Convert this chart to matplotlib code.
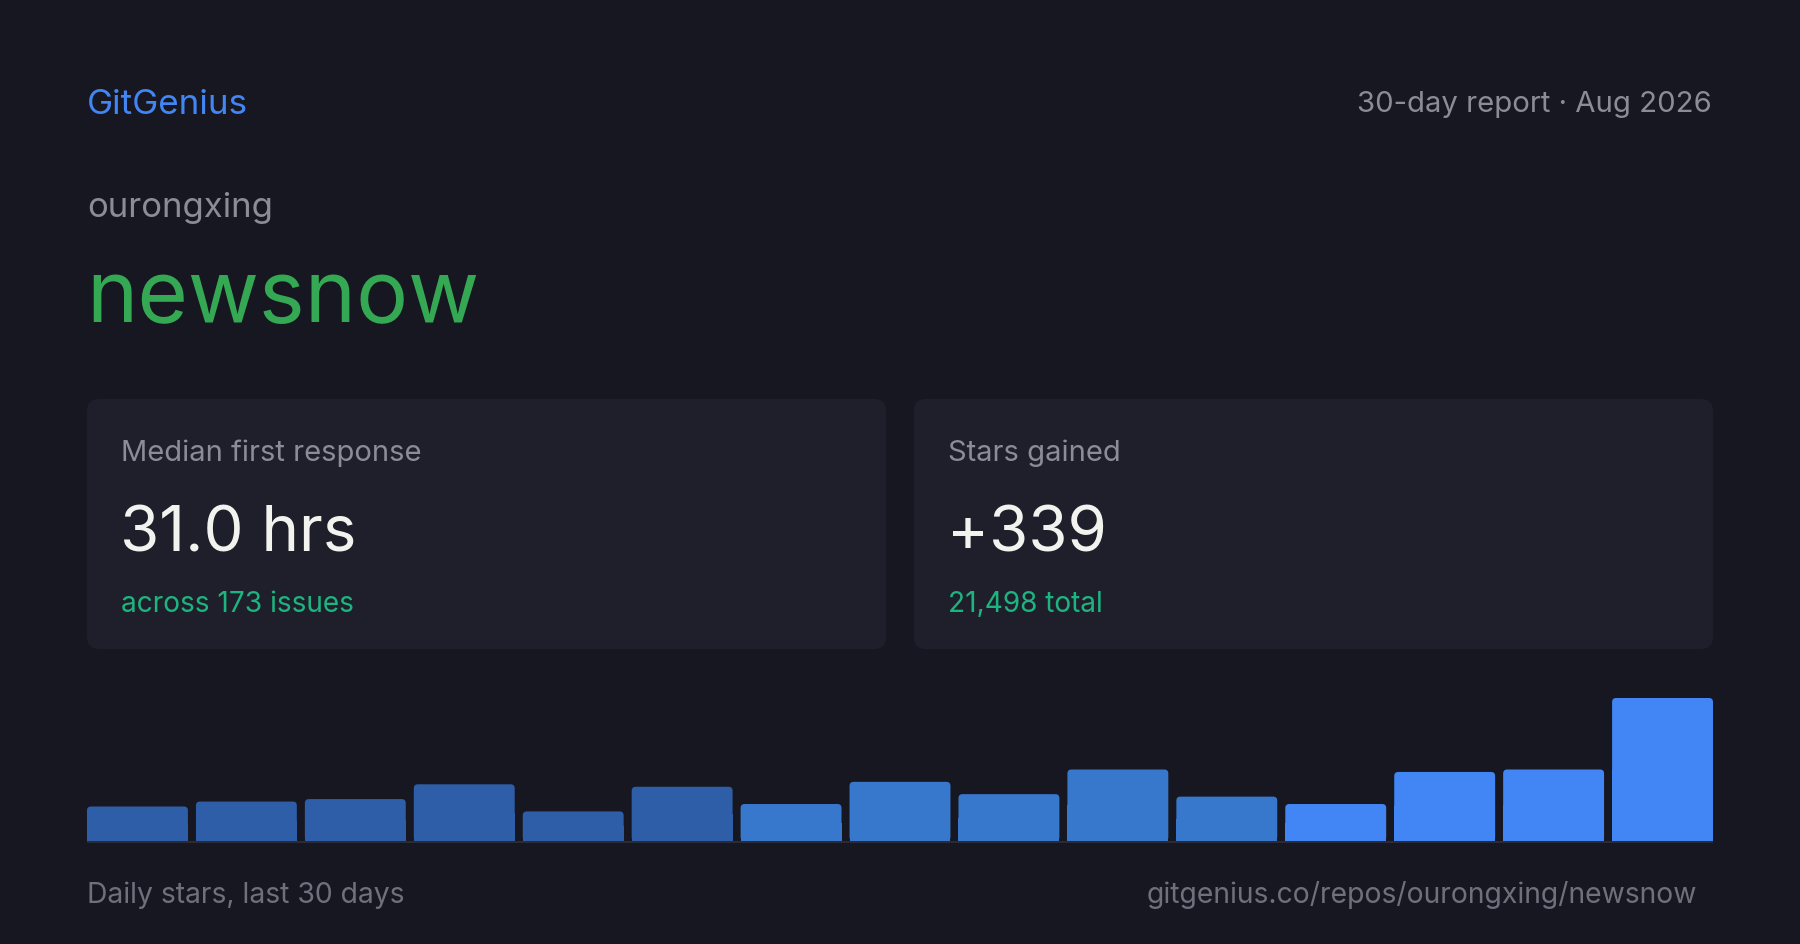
import matplotlib
matplotlib.use("Agg")
import matplotlib.pyplot as plt
from matplotlib.patches import FancyBboxPatch, Rectangle

### Data
owner = "ourongxing"
repo = "newsnow"
report_label = "30-day report · Aug 2026"
card_titles = ["Median first response", "Stars gained"]
card_values = ["31.0 hrs", "+339"]
card_notes = ["across 173 issues", "21,498 total"]
daily_stars = [14, 16, 17, 23, 12, 22, 15, 24, 19, 29, 18, 15, 28, 29, 58]
bar_colors = ["#2e5ea8"] * 6 + ["#3778cc"] * 5 + ["#4286f5"] * 4
footer_left = "Daily stars, last 30 days"
footer_right = "gitgenius.co/repos/ourongxing/newsnow"

W, H = 1800, 945
BG = "#161720"
CARD = "#1f1f2b"

plt.rcParams['font.family'] = ['Inter', 'DejaVu Sans']

fig = plt.figure(figsize=(W / 100, H / 100), dpi=100)
fig.patch.set_facecolor(BG)


def fx(x):
    return x / W


def fy(y):
    return 1 - y / H


def text(x, y, s, size, color, ha="left"):
    fig.text(fx(x), fy(y), s, fontsize=size, color=color, ha=ha, va="baseline")


### header
text(87, 114, "GitGenius", 25.2, "#4285f4")
text(1712, 112, report_label, 21.1, "#8b8c96", ha="right")
text(87, 217, owner, 25, "#8b8c96")
text(86, 322, repo, 62.5, "#34a853")

### cards
card_x = [87, 914]
card_w = 799
for i in range(2):
    x0 = card_x[i]
    box = FancyBboxPatch((fx(x0), fy(650)), fx(card_w), (650 - 400) / H,
                         boxstyle="round,pad=0,rounding_size=0.0067",
                         mutation_aspect=W / H,
                         transform=fig.transFigure, facecolor=CARD,
                         edgecolor="none", zorder=0)
    fig.patches.append(box)
    text(x0 + 34, 461, card_titles[i], 21, "#8b8c96")
    text(x0 + 33, 551, card_values[i], 45.8, "#f2f2ee")
    text(x0 + 34, 612, card_notes[i], 20.2, "#1db57f")

### bar chart
ax = fig.add_axes([fx(87), fy(842), fx(1626), 144 / H])
ax.set_facecolor("none")
w = 100.9 / 108.93
xs = list(range(len(daily_stars)))
ax.set_xlim(-w / 2, xs[-1] + w / 2)
ax.set_ylim(0, max(daily_stars) * 144 / 143)
ax.axis("off")

px_x = 1626 / (xs[-1] + w)
px_y = 144 / ax.get_ylim()[1]
r = 4 / px_x
for x, v, c in zip(xs, daily_stars, bar_colors):
    ax.add_patch(FancyBboxPatch((x - w / 2, 0), w, v,
                                boxstyle=f"round,pad=0,rounding_size={r}",
                                mutation_aspect=px_x / px_y,
                                facecolor=c, edgecolor="none"))
    ax.add_patch(Rectangle((x - w / 2, 0), w, v / 2, facecolor=c,
                           edgecolor="none"))

fig.patches.append(Rectangle((fx(87), fy(844)), fx(1626), 2 / H,
                             transform=fig.transFigure, facecolor="#2a2b37",
                             edgecolor="none"))

### footer
text(87, 903, footer_left, 20.4, "#6e707c")
text(1697, 903, footer_right, 20.4, "#6e707c", ha="right")

fig.savefig("out.png", dpi=100, facecolor=BG)
